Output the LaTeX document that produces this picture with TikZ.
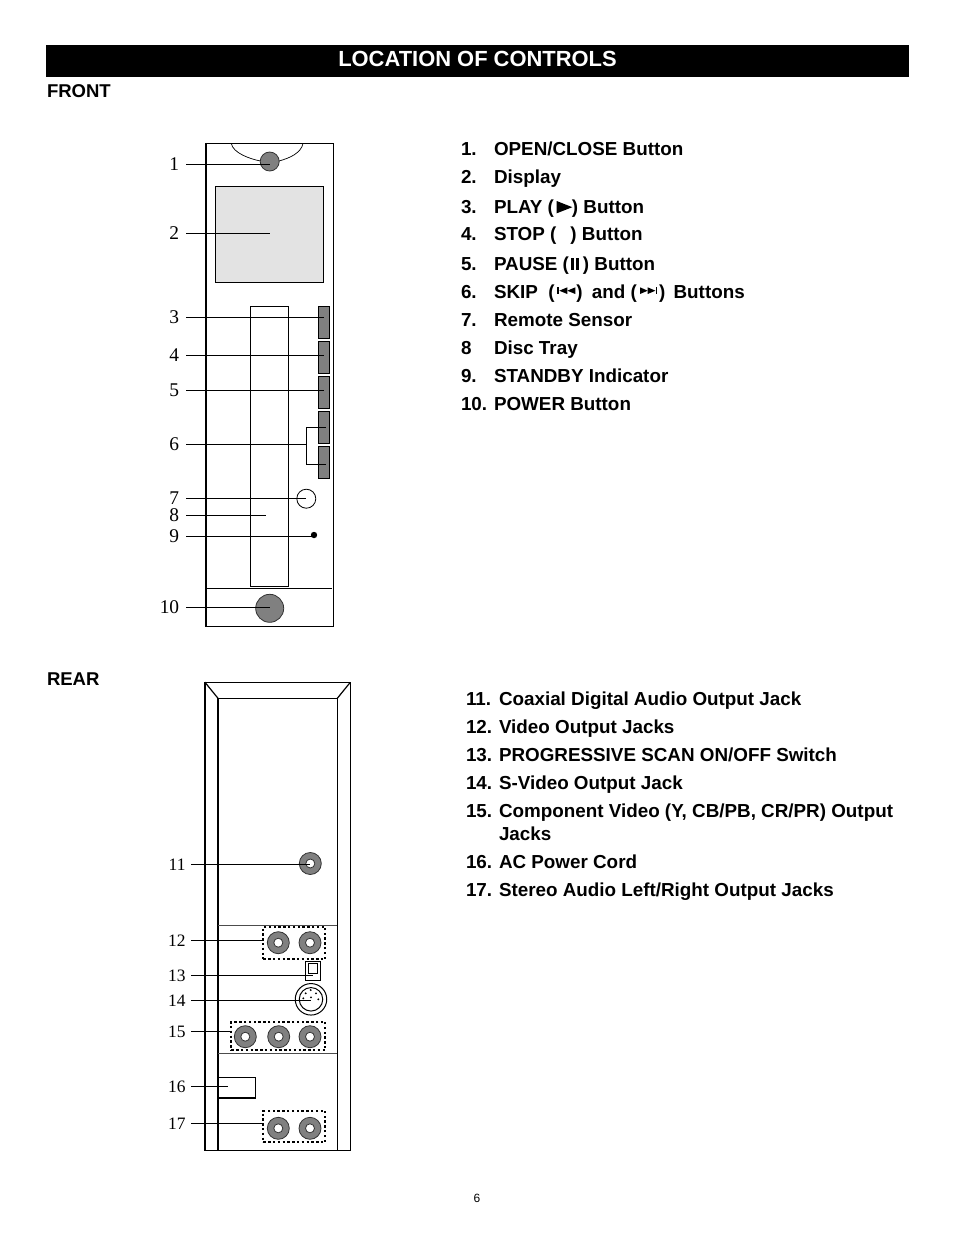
\documentclass[tikz,border=0pt]{standalone}
\usepackage{fontspec}
\setmainfont{Liberation Sans}
\newfontfamily\labfont{Liberation Serif}
\tikzset{
  x=1bp,y=-1bp,
  thin line/.style={line width=1bp,black},
  thick line/.style={line width=2.2bp,black},
  conn/.style={line width=1bp,black},
  frontlab/.style={anchor=east,inner ysep=0,inner xsep=6.8bp,outer sep=0,text height=13bp,text depth=0bp,font=\labfont\fontsize{19.5}{19.5}\selectfont},
  rearlab/.style={anchor=east,inner ysep=0,inner xsep=5.5bp,outer sep=0,text height=12bp,text depth=0bp,font=\labfont\fontsize{17.5}{17.5}\selectfont},
  item/.style={anchor=base west,inner sep=0,outer sep=0,font=\bfseries\fontsize{18.9}{18.9}\selectfont},
  head/.style={anchor=base west,inner sep=0,outer sep=0,font=\bfseries\fontsize{18.6}{18.6}\selectfont},
  box/.style={draw=black,line width=1bp,inner sep=0,outer sep=0},
  sidebtn/.style={box,fill=gray50,minimum width=11.4bp,minimum height=32bp},
  knob/.style={circle,draw=black!80,line width=0.8bp,fill=gray50,inner sep=0,outer sep=0},
  jackouter/.style={circle,draw=black!80,line width=0.8bp,fill=gray50,minimum size=22bp,inner sep=0,outer sep=0},
  jackinner/.style={circle,draw=black!80,line width=0.8bp,fill=white,minimum size=9bp,inner sep=0,outer sep=0},
  dotbox/.style={draw=black,line width=1.8bp,dash pattern=on 2.4bp off 2.4bp,inner sep=0,outer sep=0},
  pin/.style={circle,fill=black,minimum size=2.1bp,inner sep=0,outer sep=0},
  glyph/.style={fill=black,draw=none},
}
\definecolor{gray50}{HTML}{808080}
\definecolor{panel}{HTML}{E3E3E3}
\newcommand{\jack}[3]{%
  \node[jackouter] (#1) at (#2,#3) {};
  \node[jackinner] (#1i) at (#2,#3) {};}
\begin{document}
\begin{tikzpicture}
\useasboundingbox (0,0) rectangle (954,1235);
% title
\fill[black] (46,45) rectangle (909,77);
\node[anchor=base,inner sep=0,text=white,font=\bfseries\fontsize{22}{22}\selectfont] (title) at (477.5,66) {LOCATION OF CONTROLS};
\node[head] (front) at (47,97) {FRONT};
\node[head] (rear) at (47,685) {REAR};
\node[anchor=base,inner sep=0,font=\fontsize{12}{12}\selectfont] (pageno) at (477,1202) {6};

% ---------- front panel ----------
\draw[thin line] (206,143.5) -- (333,143.5) -- (333,626.3) -- (206,626.3);
\draw[thick line] (206,142.8) -- (206,627);
\node[box,fill=panel,minimum width=108bp,minimum height=96bp] (disp) at (269.5,234.3) {};
\node[box,minimum width=38bp,minimum height=280bp] (tray) at (269.3,446.3) {};
\draw[line width=0.7bp] (231.3,143.5) .. controls (233,153) and (250,159) .. (260.5,161);
\draw[line width=0.7bp] (303,143.5) .. controls (301,153) and (290,158) .. (279,161);
\node[knob,minimum size=19bp] (open) at (269.7,161.5) {};
\node[sidebtn] (b3) at (324,322.3) {};
\node[sidebtn] (b4) at (324,357.3) {};
\node[sidebtn] (b5) at (324,392.3) {};
\node[sidebtn] (b6) at (324,427.3) {};
\node[sidebtn] (b7) at (324,462.3) {};
\node[circle,draw=black,line width=0.8bp,minimum size=19bp,inner sep=0,outer sep=0] (sensor) at (306.3,498.7) {};
\node[circle,fill=black,minimum size=6.4bp,inner sep=0,outer sep=0] (standby) at (314,535) {};
\draw[thin line] (206,588.3) -- (332,588.3);
\node[knob,minimum size=28bp] (power) at (269.7,608.3) {};

\node[frontlab] (l1) at (186,164.3) {1};
\node[frontlab] (l2) at (186,233.3) {2};
\node[frontlab] (l3) at (186,317.3) {3};
\node[frontlab] (l4) at (186,355.3) {4};
\node[frontlab] (l5) at (186,390.3) {5};
\node[frontlab] (l6) at (186,444.3) {6};
\node[frontlab] (l7) at (186,498.3) {7};
\node[frontlab] (l8) at (186,515.3) {8};
\node[frontlab] (l9) at (186,536.3) {9};
\node[frontlab] (l10) at (186,607.3) {10};
\coordinate (t8) at (266,515.3);
\coordinate (s6a) at (325.7,427.3);
\coordinate (s6b) at (325.7,464.3);
\draw[conn] (l1.east) -- (l1.east -| open.center);
\draw[conn] (l2.east) -- (l2.east -| disp.center);
\draw[conn] (l3.east) -- (l3.east -| b3.center);
\draw[conn] (l4.east) -- (l4.east -| b4.center);
\draw[conn] (l5.east) -- (l5.east -| b5.center);
\draw[conn] (l6.east) -- (l6.east -| sensor.center);
\draw[conn] (s6a) -| (l6.east -| sensor.center);
\draw[conn] (s6b) -| (l6.east -| sensor.center);
\draw[conn] (l7.east) -- (l7.east -| sensor.center);
\draw[conn] (l8.east) -- (t8);
\draw[conn] (l9.east) -- (l9.east -| standby.center);
\draw[conn] (l10.east) -- (l10.east -| power.center);

% front list
\node[item] (f1n) at (461,155) {1.};   \node[item] (f1) at (494,155) {OPEN/CLOSE Button};
\node[item] (f2n) at (461,183) {2.};   \node[item] (f2) at (494,183) {Display};
\node[item] (f3n) at (461,213) {3.};   \node[item] (f3) at (494,213) {PLAY (\hspace{18bp}) Button};
\node[item] (f4n) at (461,240) {4.};   \node[item] (f4) at (494,240) {STOP (\hspace{14bp}) Button};
\node[item] (f5n) at (461,270) {5.};   \node[item] (f5) at (494,270) {PAUSE (\hspace{14bp}) Button};
\node[item] (f6n) at (461,298) {6.};   \node[item] (f6) at (494,298) {SKIP\hspace{5.2bp} (\hspace{21.7bp})\hspace{4bp} and (\hspace{22.3bp})\hspace{3bp} Buttons};
\node[item] (f7n) at (461,326) {7.};   \node[item] (f7) at (494,326) {Remote Sensor};
\node[item] (f8n) at (461,354) {8};    \node[item] (f8) at (494,354) {Disc Tray};
\node[item] (f9n) at (461,382) {9.};   \node[item] (f9) at (494,382) {STANDBY Indicator};
\node[item] (f10n) at (461,410) {10.}; \node[item] (f10) at (494,410) {POWER Button};
% symbols in the list
\fill[glyph] (556.7,201) -- (572.3,207.2) -- (556.7,213.3) -- cycle;
\fill[glyph] (571,258.3) rectangle (574.3,270);
\fill[glyph] (575.7,258.3) rectangle (579.3,270);
% skip back
\fill[glyph] (557.3,287.3) rectangle (559,294);
\fill[glyph] (567.3,287.3) -- (559.3,290.7) -- (567.3,294) -- cycle;
\fill[glyph] (575.3,287.3) -- (567.3,290.7) -- (575.3,294) -- cycle;
% skip forward
\fill[glyph] (640,287.3) -- (647.7,290.7) -- (640,294) -- cycle;
\fill[glyph] (647.7,287.3) -- (655.4,290.7) -- (647.7,294) -- cycle;
\fill[glyph] (655.7,287.3) rectangle (657.3,294);

% ---------- rear panel ----------
\draw[thin line] (205,682.3) -- (350.3,682.3) -- (350.3,1150) -- (205,1150);
\draw[thin line] (218,698.3) -- (337.3,698.3) -- (337.3,1150);
\draw[thick line] (205,681.6) -- (205,1150.6);
\draw[thick line] (218,697.6) -- (218,1150);
\draw[line width=1.2bp] (205,682.3) -- (218,698.3);
\draw[line width=1.2bp] (350.3,682.3) -- (337.3,698.3);
\draw[line width=1.2bp,black!70] (218,925.3) -- (337.3,925.3);
\draw[line width=1.2bp,black!70] (218,1053.3) -- (337.3,1053.3);

\jack{j11}{310.3}{863.5}
\node[dotbox,minimum width=62bp,minimum height=32.6bp] (g12) at (294.3,943) {};
\jack{j12a}{278.3}{942.7}
\jack{j12b}{310}{942.7}
\node[box,minimum width=15.4bp,minimum height=19.4bp] (sw) at (313,971) {};
\node[box,minimum width=9.4bp,minimum height=10bp] (swi) at (313,968.3) {};
\node[circle,draw=black,line width=1bp,minimum size=31.5bp,inner sep=0,outer sep=0] (sv) at (311,999.3) {};
\node[circle,draw=black,line width=1bp,minimum size=23.5bp,inner sep=0,outer sep=0] (svi) at (311,999.3) {};
\foreach \n/\a/\b in {p1/303.3/998.3,p2/305.7/993.3,p3/310.7/990,p4/316/993.3,p5/318.3/999.3,p6/311/997.3}
  \node[pin] (\n) at (\a,\b) {};
\node[dotbox,minimum width=94bp,minimum height=28.6bp] (g15) at (278.3,1036) {};
\jack{j15a}{245.3}{1036.7}
\jack{j15b}{278.7}{1036.7}
\jack{j15c}{310}{1036.7}
\draw[line width=1bp] (218,1077.3) -- (255.7,1077.3) -- (255.7,1098);
\draw[line width=1.7bp] (218,1098) -- (256.4,1098);
\node[dotbox,minimum width=62bp,minimum height=31.6bp] (g17) at (294.3,1126.5) {};
\jack{j17a}{278.3}{1128.3}
\jack{j17b}{310}{1128.3}

\node[rearlab] (l11) at (191,864.3) {11};
\node[rearlab] (l12) at (191,940.3) {12};
\node[rearlab] (l13) at (191,975.3) {13};
\node[rearlab] (l14) at (191,1000.3) {14};
\node[rearlab] (l15) at (191,1031.3) {15};
\node[rearlab] (l16) at (191,1086.3) {16};
\node[rearlab] (l17) at (191,1123.3) {17};
\coordinate (t16) at (228,1086.3);
\draw[conn] (l11.east) -- (l11.east -| j11.center);
\draw[conn] (l12.east) -- (l12.east -| g12.west);
\draw[conn] (l13.east) -- (l13.east -| swi.center);
\draw[conn] (l14.east) -- (l14.east -| sv.center);
\draw[conn] (l15.east) -- (l15.east -| g15.west);
\draw[conn] (l16.east) -- (t16);
\draw[conn] (l17.east) -- (l17.east -| g17.west);

% rear list
\node[item] (r1n) at (466,705) {11.}; \node[item] (r1) at (499,705) {Coaxial Digital Audio Output Jack};
\node[item] (r2n) at (466,733) {12.}; \node[item] (r2) at (499,733) {Video Output Jacks};
\node[item] (r3n) at (466,761) {13.}; \node[item] (r3) at (499,761) {PROGRESSIVE SCAN ON/OFF Switch};
\node[item] (r4n) at (466,789) {14.}; \node[item] (r4) at (499,789) {S-Video Output Jack};
\node[item] (r5n) at (466,817) {15.}; \node[item] (r5) at (499,817) {Component Video (Y, CB/PB, CR/PR) Output};
\node[item] (r5b) at (499,840) {Jacks};
\node[item] (r6n) at (466,868) {16.}; \node[item] (r6) at (499,868) {AC Power Cord};
\node[item] (r7n) at (466,896) {17.}; \node[item] (r7) at (499,896) {Stereo Audio Left/Right Output Jacks};
\end{tikzpicture}
\end{document}
